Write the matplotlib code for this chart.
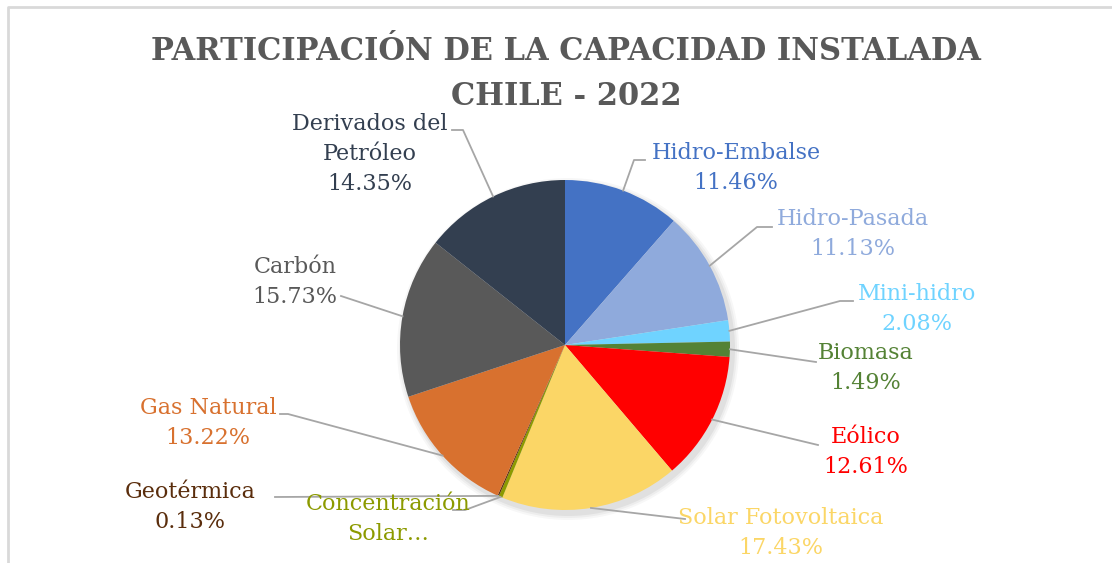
import numpy as np
import matplotlib.pyplot as plt
from matplotlib.patches import Circle

# data (percent of installed capacity, Chile 2022)
fuentes = ['Hidro-Embalse', 'Hidro-Pasada', 'Mini-hidro', 'Biomasa', 'Eólico',
           'Solar Fotovoltaica', 'Concentración\nSolar…', 'Geotérmica',
           'Gas Natural', 'Carbón', 'Derivados del\nPetróleo']
porcentajes = [11.46, 11.13, 2.08, 1.49, 12.61, 17.43, 0.37, 0.13, 13.22, 15.73, 14.35]
etiquetas_pct = ['11.46%', '11.13%', '2.08%', '1.49%', '12.61%', '17.43%', '',
                 '0.13%', '13.22%', '15.73%', '14.35%']
colores = ['#4472C4', '#8FAADC', '#6FD3FF', '#548235', '#FF0000', '#FBD666',
           '#8C9A00', '#5A2D0C', '#D8712F', '#595959', '#333F50']
colores_texto = ['#4472C4', '#8FAADC', '#6FD3FF', '#548235', '#FF0000', '#FBD666',
                 '#8C9A00', '#5A2D0C', '#D8712F', '#595959', '#333F50']

# layout (pixel coords, y down): label centre and leader end / elbow
pos_label = [(736, 168), (853, 234), (917, 309), (866, 368), (866, 452), (781, 533),
             (388, 519), (190, 507), (208, 423), (295, 282), (370, 154)]
codo = [(634, 160), (757, 227), (840, 301), None, None, None,
        (465, 510), None, (288, 414), None, (463, 130)]
fin = [(645, 160), (772, 227), (853, 301), (816, 362), (818, 445), (685, 519),
       (453, 510), (275, 497), (280, 414), (341, 296), (452, 130)]

W, H = 1112, 563
cx, cy, r = 565, 345, 165
serif = ['DejaVu Serif']

fig = plt.figure(figsize=(W / 100, H / 100), dpi=100)
ax = fig.add_axes([0, 0, 1, 1])

def py(y):
    return H - y

# soft shadow
for k, a in enumerate([0.05, 0.04, 0.03]):
    ax.add_patch(Circle((cx + 3, py(cy) - 4), r + 2 + 2 * k, color='black', alpha=a, lw=0, zorder=1))

wedges, _ = ax.pie(porcentajes, colors=colores, startangle=90, counterclock=False,
                   center=(cx, py(cy)), radius=r, frame=True,
                   wedgeprops=dict(linewidth=0, zorder=2))
ax.set_xlim(0, W)
ax.set_ylim(0, H)
ax.axis('off')

for i, w in enumerate(wedges):
    ang = np.deg2rad((w.theta1 + w.theta2) / 2)
    x0 = cx + r * np.cos(ang)
    y0 = cy - r * np.sin(ang)
    xs, ys = [x0], [y0]
    if codo[i] is not None:
        xs.append(codo[i][0]); ys.append(codo[i][1])
    xs.append(fin[i][0]); ys.append(fin[i][1])
    ax.plot(xs, [py(v) for v in ys], color='#A6A6A6', lw=1.3, zorder=3)

    texto = fuentes[i] + ('\n' + etiquetas_pct[i] if etiquetas_pct[i] else '')
    lx, ly = pos_label[i]
    ax.text(lx, py(ly), texto, ha='center', va='center', fontsize=16,
            color=colores_texto[i], family=serif, linespacing=1.5, zorder=4)

ax.text(566, py(74), 'PARTICIPACIÓN DE LA CAPACIDAD INSTALADA\nCHILE - 2022',
        ha='center', va='center', fontsize=22, fontweight='bold', color='#595959',
        family=serif, linespacing=1.6)

# chart border (left and top visible)
ax.plot([8, 8, W], [0, py(7), py(7)], color='#D9D9D9', lw=2, clip_on=False)

fig.savefig('out.png', dpi=100)
